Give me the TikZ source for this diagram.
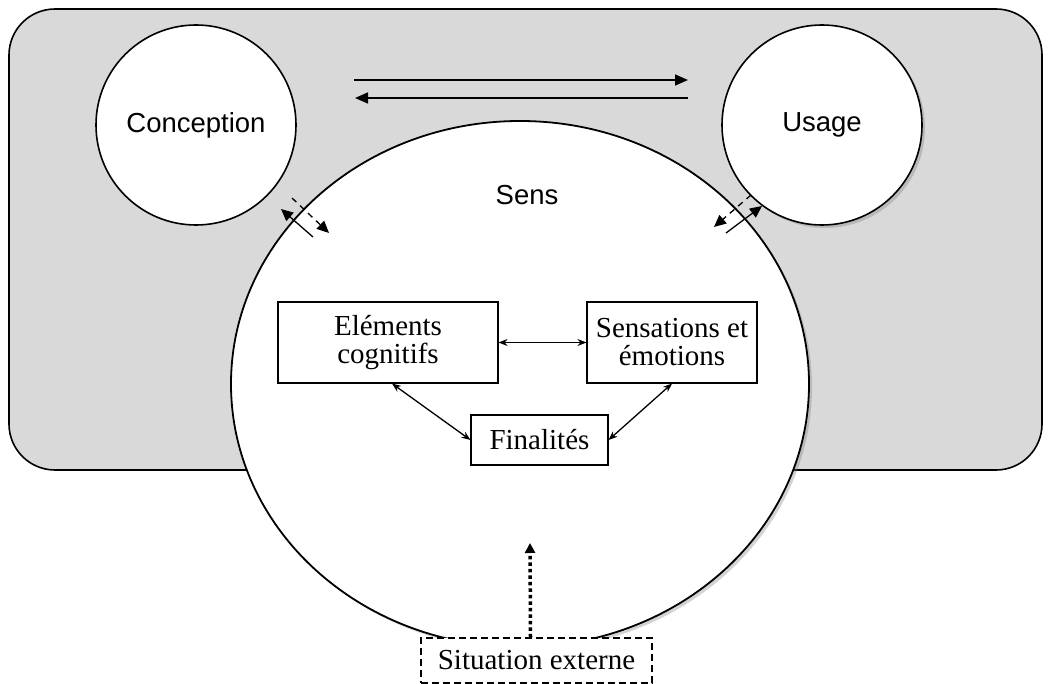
\documentclass[tikz,border=0pt]{standalone}
\usepackage{fontspec}
\setmainfont{Liberation Serif}
\newfontfamily\arialfont{Liberation Sans}
\usetikzlibrary{arrows.meta,shapes.geometric,shadows}
\definecolor{PanelGray}{HTML}{D9D9D9}
\definecolor{Ink}{HTML}{000000}
\tikzset{
  panel/.style={draw=Ink, line width=1.6pt, fill=PanelGray, rounded corners=46pt},
  pole/.style={circle, draw=Ink, line width=1.6pt, fill=white, minimum size=200pt, inner sep=0pt, font=\arialfont\fontsize{27.5}{31}\selectfont},
  sensring/.style={ellipse, draw=Ink, line width=1.8pt, fill=white, minimum width=578pt, minimum height=526pt, inner sep=0pt,
    drop shadow={shadow xshift=3pt, shadow yshift=-3pt, opacity=0.35}},
  inbox/.style={draw=Ink, line width=1.1pt, fill=white, align=center, inner sep=0pt, font=\fontsize{29}{28}\selectfont},
  extbox/.style={draw=Ink, line width=1.1pt, dashed, dash pattern=on 7pt off 4pt, fill=white, inner sep=0pt, font=\fontsize{29}{28}\selectfont},
  flowarrow/.style={-{Triangle[length=13pt, width=11pt]}, line width=1.6pt, draw=Ink},
  linkarrow/.style={{Stealth[length=9pt, width=7pt]}-{Stealth[length=9pt, width=7pt]}, line width=1.3pt, draw=Ink},
  touch/.style={-{Triangle[length=12pt, width=11pt]}, line width=1.3pt, draw=Ink},
  touchdash/.style={touch, dash pattern=on 6pt off 5pt},
  influence/.style={-{Triangle[length=10pt, width=10pt]}, line width=3.5pt, dash pattern=on 3.5pt off 3pt, draw=Ink},
}
\begin{document}
\begin{tikzpicture}[x=1pt, y=-1pt]
  \useasboundingbox (0,0) rectangle (1049,684);
  \draw[panel] (9,9) rectangle (1042,470);

  \node[pole] (conc) at (196,125) {Conception};
  \node[pole, drop shadow={shadow xshift=3pt, shadow yshift=-3pt, opacity=0.35}] (usage) at (822,125) {Usage};
  \node[sensring] (sens) at (520,384) {};
  \node[font=\arialfont\fontsize{27.5}{31}\selectfont] (senslab) at (527,195) {Sens};

  % aller-retour conception / usage
  \coordinate (goA) at (354,80);
  \coordinate (goB) at (688,80);
  \coordinate (backA) at (688,98);
  \coordinate (backB) at (355,98);
  \draw[flowarrow] (goA) -- (goB);
  \draw[flowarrow] (backA) -- (backB);

  % contacts avec le sens
  \coordinate (lsA) at (313,237);
  \coordinate (lsB) at (281,209);
  \coordinate (ldA) at (292,198);
  \coordinate (ldB) at (329,233);
  \coordinate (rsA) at (726,233);
  \coordinate (rsB) at (762,206);
  \coordinate (rdA) at (751,195);
  \coordinate (rdB) at (714,227);
  \draw[touch] (lsA) -- (lsB);
  \draw[touchdash] (ldA) -- (ldB);
  \draw[touch] (rsA) -- (rsB);
  \draw[touchdash] (rdA) -- (rdB);

  \node[inbox, minimum width=220pt, minimum height=81pt] (elem) at (388,342.5) {Eléments\\cognitifs};
  \node[inbox, minimum width=170pt, minimum height=81pt] (emo) at (672,342.5) {Sensations et\\émotions};
  \node[inbox, minimum width=137pt, minimum height=50pt] (fin) at (539.5,440) {Finalités};
  \draw[linkarrow] (elem.east) -- (emo.west);
  \draw[linkarrow] ([xshift=4pt]elem.south) -- (fin.west);
  \draw[linkarrow] (emo.south) -- (fin.east);

  \node[extbox, minimum width=231pt, minimum height=45pt] (ext) at (536.5,660.5) {Situation externe};
  \coordinate (extto) at (530,543);
  \draw[influence] ([xshift=-6pt]ext.north) -- (extto);
\end{tikzpicture}
\end{document}
